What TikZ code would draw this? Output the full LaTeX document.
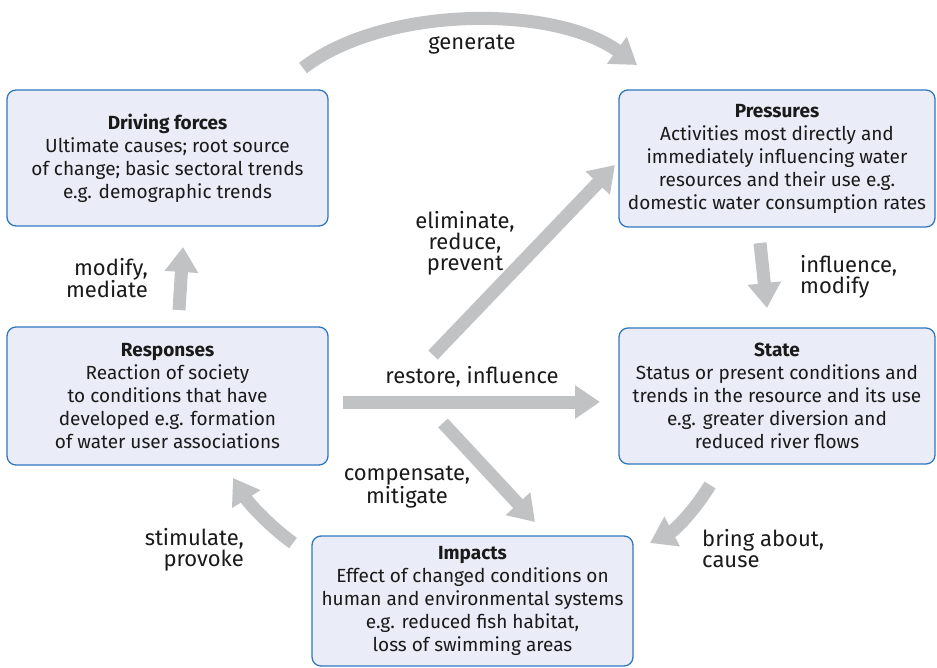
\documentclass[tikz,border=0pt]{standalone}
\usepackage{fontspec}
\setmainfont{Fira Sans}
\usetikzlibrary{arrows.meta}
\definecolor{boxfill}{HTML}{EAEDF7}
\definecolor{boxline}{HTML}{2F78BE}
\definecolor{arrgray}{HTML}{C1C2C4}
\definecolor{txt}{HTML}{1A1A1A}
\tikzset{
  box/.style={draw=boxline, line width=1.3pt, fill=boxfill, rounded corners=9pt,
    inner sep=0pt, align=center, text=txt,
    font=\fontsize{19}{23}\selectfont},
  bigarrow/.style={draw=arrgray, line width=13pt,
    -{Triangle[width=32pt,length=25pt]}},
  lbl/.style={text=txt, inner sep=0pt, font=\fontsize{22}{21}\selectfont},
}
\begin{document}
\begin{tikzpicture}[x=1pt,y=-1pt]
\useasboundingbox (0,0) rectangle (937,668);
% boxes
\node[box, minimum width=321pt, minimum height=136pt] (drive) at (167.5,158)
  {\textbf{Driving forces}\\Ultimate causes; root source\\of change; basic sectoral trends\\e.g. demographic trends};
\node[box, minimum width=316pt, minimum height=137pt] (press) at (777,158.5)
  {\textbf{Pressures}\\Activities most directly and\\immediately influencing water\\resources and their use e.g.\\domestic water consumption rates};
\node[box, minimum width=321pt, minimum height=138pt] (resp) at (167.5,396)
  {\textbf{Responses}\\Reaction of society\\to conditions that have\\developed e.g. formation\\of water user associations};
\node[box, minimum width=316pt, minimum height=136pt] (state) at (777,396)
  {\textbf{State}\\Status or present conditions and\\trends in the resource and its use\\e.g. greater diversion and\\reduced river flows};
\node[box, minimum width=321pt, minimum height=130pt] (impact) at (472.5,601)
  {\textbf{Impacts}\\Effect of changed conditions on\\human and environmental systems\\e.g. reduced fish habitat,\\loss of swimming areas};
% arrow end points
\coordinate (g1) at (303,68);   \coordinate (g2) at (637,65);
\coordinate (m1) at (179,310);  \coordinate (m2) at (183,247);
\coordinate (i1) at (760,243);  \coordinate (i2) at (767,308);
\coordinate (r1) at (343,402);  \coordinate (r2) at (600,402);
\coordinate (e1) at (433,355);  \coordinate (e2) at (615,165);
\coordinate (c1) at (443,423);  \coordinate (c2) at (535,522);
\coordinate (s1) at (293,543);  \coordinate (s2) at (233,478);
\coordinate (b1) at (710,485);  \coordinate (b2) at (650,543);
% arrows
\draw[bigarrow] (g1) .. controls (385,5) and (555,5) .. (g2);
\draw[bigarrow] (m1) -- (m2);
\draw[bigarrow] (i1) -- (i2);
\draw[bigarrow] (r1) -- (r2);
\draw[bigarrow] (e1) -- (e2);
\draw[bigarrow] (c1) -- (c2);
\draw[bigarrow] (s1) .. controls (272,528) and (250,505) .. (s2);
\draw[bigarrow] (b1) .. controls (695,510) and (675,530) .. (b2);
% labels
\node[lbl] (lg) at (472,45) {generate};
\node[lbl, align=right, anchor=east] (lm) at (148,278) {modify,\\mediate};
\node[lbl, align=left, anchor=west] (li) at (800,277) {influence,\\modify};
\node[lbl] (lr) at (472,377) {restore, influence};
\node[lbl, align=center] (le) at (465,243) {eliminate,\\reduce,\\prevent};
\node[lbl, align=center] (lc) at (407,487) {compensate,\\mitigate};
\node[lbl, align=right, anchor=east] (ls) at (244,550) {stimulate,\\provoke};
\node[lbl, align=left, anchor=west] (lb) at (702,549) {bring about,\\cause};
\end{tikzpicture}
\end{document}
